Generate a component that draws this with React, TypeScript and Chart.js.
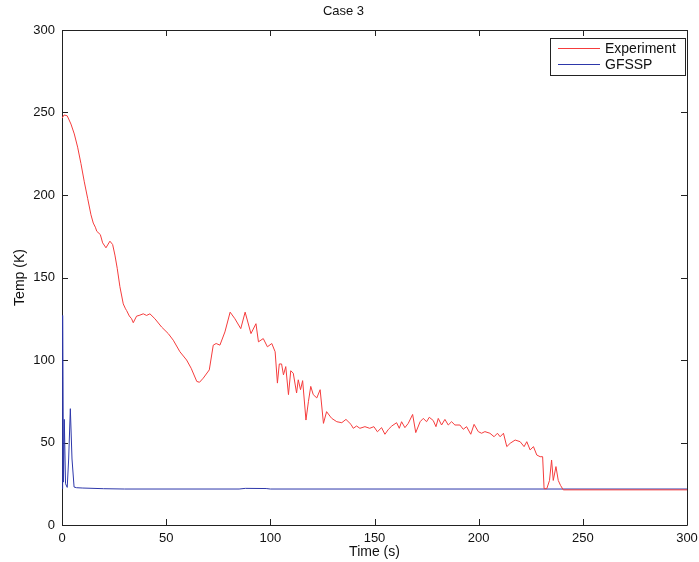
import React, { useEffect, useRef } from "react";
import { Chart, registerables } from "chart.js";

Chart.register(...registerables);

const chartTitle = "Case 3";
const xAxisTitle = "Time (s)";
const yAxisTitle = "Temp (K)";
const xTicks = [0, 50, 100, 150, 200, 250, 300];
const yTicks = [0, 50, 100, 150, 200, 250, 300];

const expLabel = "Experiment";
const expTime = [
  0, 1, 2.5, 4.3, 5.9, 7.5, 9.1, 10.7, 12.3, 13.9, 15, 16, 16.7, 18.4, 19.5, 21.1, 23, 24.3, 25.4, 26.5,
  27.8, 29.4, 30.5, 31, 32.3, 33.4, 34.2, 35.8, 37, 39, 40.6, 42.2, 44.6, 47.8, 51, 53.4, 56.6, 59.8, 62, 64.7,
  66, 67.8, 70.7, 72.6, 74, 75.8, 78.2, 80.7, 83, 85.8, 87.9, 90.7, 93.1, 94.3, 96.6, 98.6, 100.7, 102.3, 103.4, 104.3,
  105.4, 106.3, 107.4, 108.7, 109.8, 111, 112.6, 113.4, 114.5, 115.5, 117.1, 118.3, 119.4, 120.6, 122.3, 123.9, 125.5, 127, 128.6, 129.5,
  131.9, 134.3, 136.3, 138.7, 139.8, 141.4, 143, 145.4, 147.7, 149.7, 151.4, 153.4, 155, 156.7, 158.3, 160.6, 161.9, 163, 164.6, 166.2,
  168.3, 169.8, 171.9, 173.4, 175, 176.3, 178.2, 179.5, 180.6, 182.2, 183.8, 185.4, 187, 188.6, 191, 192.6, 194.2, 196.2, 197.8, 199.8,
  201.4, 203, 205.4, 207.4, 209, 210.3, 211.9, 213.5, 215.1, 217.5, 219.9, 221.8, 223.1, 224.7, 226.3, 227.9, 229.5, 230.7, 231.4, 232.7,
  234, 235, 235.8, 237.1, 238.2, 239.3, 240.6, 300,
];
const expTemp = [
  246.5, 248.5, 248, 243, 237, 229, 219, 208, 198, 188, 183, 180.5, 178, 176, 171, 168, 172, 170, 163.6, 155.6,
  144.4, 134, 131, 130, 126.7, 125, 122.6, 126.6, 127, 128, 127, 128, 125, 120, 116, 112, 105, 100, 95, 87,
  86.5, 89, 94, 109, 110, 109, 117, 129, 125, 119, 129, 116, 122, 111, 113, 108, 110, 105, 86, 97.6,
  97.6, 91, 96, 79, 93.5, 92, 80, 88, 82, 87.5, 63.6, 75, 84, 79, 77, 82, 61.6, 68.7, 66, 64.6,
  62.6, 62, 64, 61, 58.6, 60, 58.6, 59.6, 58.6, 59.6, 56.5, 59, 55, 58, 60, 62, 58.6, 62.6, 59, 61.6,
  67, 56, 62.6, 64.6, 62.6, 65.3, 63.3, 59.6, 64.6, 60.6, 64, 60.6, 62.6, 60.6, 60.6, 58, 59.6, 55, 61, 56.6,
  55.6, 56.6, 55.6, 53.5, 55.6, 53.5, 55.6, 47.5, 49.5, 51.5, 50.5, 47.5, 50.5, 45.5, 47.5, 42.4, 41.4, 41.4, 22, 22,
  27, 39.4, 27, 35.4, 27, 24, 21.3, 21.3,
];

const gfsspLabel = "GFSSP";
const gfsspTime = [0, 0.3, 0.7, 1.1, 1.7, 2.5, 3.2, 4.0, 4.8, 5.8, 7, 10, 20, 30, 85, 88, 98, 100, 300];
const gfsspTemp = [22, 127, 26, 64, 25, 22.8, 40, 70.5, 40, 23, 22.6, 22.4, 22.0, 21.8, 21.8, 22.2, 22.1, 21.8, 21.8];

const FONT = '"Liberation Sans", Arial, Helvetica, sans-serif';
const AXIS_COLOR = "#222222";

const boxPlugin = {
  id: "matlabBox",
  beforeDatasetsDraw(chart: any) {
    const { ctx, chartArea } = chart;
    const { left, right, top, bottom } = chartArea;
    const xs = chart.scales.x;
    const ys = chart.scales.y;
    ctx.save();
    ctx.strokeStyle = AXIS_COLOR;
    ctx.lineWidth = 1;
    ctx.beginPath();
    ctx.rect(Math.round(left) + 0.5, Math.round(top) + 0.5, Math.round(right - left), Math.round(bottom - top));
    ctx.stroke();
    const tl = 6;
    ctx.beginPath();
    xTicks.forEach((v) => {
      const px = Math.round(xs.getPixelForValue(v)) + 0.5;
      ctx.moveTo(px, bottom);
      ctx.lineTo(px, bottom - tl);
      ctx.moveTo(px, top);
      ctx.lineTo(px, top + tl);
    });
    yTicks.forEach((v) => {
      const py = Math.round(ys.getPixelForValue(v)) + 0.5;
      ctx.moveTo(left, py);
      ctx.lineTo(left + tl, py);
      ctx.moveTo(right, py);
      ctx.lineTo(right - tl, py);
    });
    ctx.stroke();
    ctx.restore();
  },
  afterDraw(chart: any) {
    const { ctx } = chart;
    ctx.save();
    const bx = 550.5, by = 38.5, bw = 135, bh = 37;
    ctx.fillStyle = "#ffffff";
    ctx.fillRect(bx, by, bw, bh);
    ctx.strokeStyle = AXIS_COLOR;
    ctx.lineWidth = 1;
    ctx.strokeRect(bx, by, bw, bh);
    ctx.font = `14px ${FONT}`;
    ctx.textBaseline = "middle";
    ctx.textAlign = "left";
    chart.data.datasets.forEach((ds: any, i: number) => {
      const ly = 48.5 + i * 16;
      ctx.strokeStyle = ds.borderColor;
      ctx.beginPath();
      ctx.moveTo(558, ly);
      ctx.lineTo(600, ly);
      ctx.stroke();
      ctx.fillStyle = "#111111";
      ctx.fillText(ds.label, 605, ly + 0.5);
    });
    ctx.restore();
  },
};

export default function App() {
  const ref = useRef<HTMLCanvasElement | null>(null);
  useEffect(() => {
    if (!ref.current) return;
    const chart = new Chart(ref.current, {
      type: "line",
      data: {
        datasets: [
          {
            label: expLabel,
            data: expTime.map((t, i) => ({ x: t, y: expTemp[i] })),
            borderColor: "rgb(245,60,60)",
            borderWidth: 1,
            pointRadius: 0,
            tension: 0,
            fill: false,
          },
          {
            label: gfsspLabel,
            data: gfsspTime.map((t, i) => ({ x: t, y: gfsspTemp[i] })),
            borderColor: "rgb(45,55,170)",
            borderWidth: 1,
            pointRadius: 0,
            tension: 0,
            fill: false,
          },
        ],
      },
      options: {
        responsive: false,
        animation: false,
        layout: { padding: { left: 0, right: 12, top: 0, bottom: 0 } },
        plugins: {
          legend: { display: false },
          tooltip: { enabled: false },
          title: {
            display: true,
            text: chartTitle,
            color: "#111111",
            font: { family: FONT, size: 13, weight: "normal" },
            padding: { top: 4, bottom: 10.4 },
          },
        },
        scales: {
          x: {
            type: "linear",
            min: 0,
            max: 300,
            afterFit: (s: any) => {
              s.height = 37;
              s.paddingLeft = 0;
              s.paddingRight = 0;
            },
            afterBuildTicks: (s: any) => {
              s.ticks = xTicks.map((v) => ({ value: v }));
            },
            grid: { display: false, drawTicks: false },
            border: { display: false },
            ticks: {
              color: "#111111",
              font: { family: FONT, size: 13 },
              padding: 6,
              maxRotation: 0,
            },
            title: {
              display: true,
              text: xAxisTitle,
              color: "#111111",
              font: { family: FONT, size: 14 },
              padding: { top: 0, bottom: 1 },
            },
          },
          y: {
            type: "linear",
            min: 0,
            max: 300,
            afterFit: (s: any) => {
              s.width = 62;
              s.paddingTop = 0;
              s.paddingBottom = 0;
            },
            afterBuildTicks: (s: any) => {
              s.ticks = yTicks.map((v) => ({ value: v }));
            },
            grid: { display: false, drawTicks: false },
            border: { display: false },
            ticks: {
              color: "#111111",
              font: { family: FONT, size: 13 },
              padding: 7,
            },
            title: {
              display: true,
              text: yAxisTitle,
              color: "#111111",
              font: { family: FONT, size: 14 },
              padding: { top: 12, bottom: 0 },
            },
          },
        },
      },
      plugins: [boxPlugin],
    });
    return () => chart.destroy();
  }, []);
  return (
    <div style={{ position: "absolute", left: 0, top: 0, width: 699, height: 562, background: "#fff" }}>
      <canvas ref={ref} width={699} height={562} style={{ display: "block" }} />
    </div>
  );
}
